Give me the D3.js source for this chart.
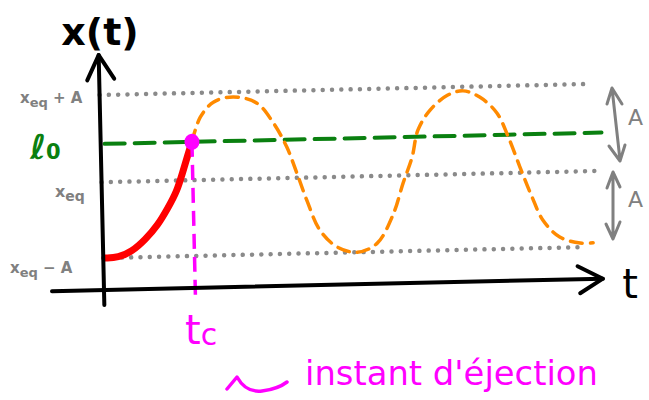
<!DOCTYPE html>
<html lang="en">
  <head>
    <meta charset="utf-8">
    <title>x(t) - instant d'éjection</title>
    <style>
      body { margin: 0; background: #fff; }
      svg { display: block; }
      text { font-family: "DejaVu Sans", sans-serif; }
    </style>
    <script src="https://d3js.org/d3.v7.min.js"></script>
  </head>
  <body>
    <script>
    // values (t in arbitrary units, x in units of A around x_eq)
    const levelNames = ["xeq+A", "xeq", "xeq-A"];
    const levelValues = [1, -0.07, -1];
    const levelEnds = [9.85, 9.95, 9.7];
    const l0 = 0.4;
    const tc = 1.84;

    const redT = [0.04, 0.30, 0.58, 0.85, 1.12, 1.33, 1.51, 1.64, 1.75, 1.84];
    const redX = [-1.00, -1.00, -0.93, -0.79, -0.61, -0.40, -0.21, 0.03, 0.24, 0.40];

    const orangeT = [1.84, 2.02, 2.29, 2.69, 3.16, 3.49, 3.75, 3.94, 4.13, 4.38, 4.72, 5.12, 5.52, 5.86,
      6.08, 6.27, 6.40, 6.65, 7.01, 7.33, 7.66, 8.00, 8.22, 8.44, 8.67, 8.88, 9.21, 9.62, 9.88];
    const orangeX = [0.40, 0.70, 0.88, 0.94, 0.86, 0.61, 0.31, -0.01, -0.35, -0.72, -0.93, -1.00, -0.90, -0.55,
      -0.16, 0.15, 0.48, 0.72, 0.90, 0.95, 0.87, 0.67, 0.37, 0.00, -0.37, -0.66, -0.87, -0.95, -0.95];

    const width = 649, height = 400;
    const axisY = 290;

    const svg = d3.select("body")
      .append("svg")
      .attr("width", width)
      .attr("height", height)

    const x = d3.scaleLinear().domain([0, 10]).range([104, 600])
    const y = d3.scaleLinear().domain([-1, 1]).range([258, 95])

    // the sketch is drawn slightly tilted
    const plot = svg.append("g")
      .attr("transform", `rotate(-1.3,${x(0)},${axisY})`)

    // dotted reference levels
    plot.selectAll(".level")
      .data(levelValues)
      .join("line")
      .attr("class", "level")
      .attr("x1", x(0))
      .attr("x2", (d, i) => x(levelEnds[i]))
      .attr("y1", d => y(d))
      .attr("y2", d => y(d))
      .attr("stroke", "#8a8a8a")
      .attr("stroke-width", 4.5)
      .attr("stroke-linecap", "round")
      .attr("stroke-dasharray", "0 9.3")

    // l0 green dashed
    plot.append("line")
      .attr("x1", x(0) + 4).attr("x2", x(10.1))
      .attr("y1", y(l0)).attr("y2", y(l0))
      .attr("stroke", "#0a8010")
      .attr("stroke-width", 4)
      .attr("stroke-linecap", "round")
      .attr("stroke-dasharray", "20 10")

    const line = d3.line()
      .x(d => x(d[0]))
      .y(d => y(d[1]))

    // orange dashed oscillation after ejection
    plot.append("path")
      .datum(d3.zip(orangeT, orangeX))
      .attr("d", line.curve(d3.curveCatmullRom))
      .attr("fill", "none")
      .attr("stroke", "#ff8a00")
      .attr("stroke-width", 3.5)
      .attr("stroke-linecap", "round")
      .attr("stroke-dasharray", "12 8")

    // red rising part
    plot.append("path")
      .datum(d3.zip(redT, redX))
      .attr("d", line.curve(d3.curveBasis))
      .attr("fill", "none")
      .attr("stroke", "#ff0000")
      .attr("stroke-width", 7)
      .attr("stroke-linecap", "round")

    // magenta vertical at tc
    plot.append("line")
      .attr("x1", x(tc)).attr("x2", x(tc))
      .attr("y1", y(l0)).attr("y2", axisY + 7)
      .attr("stroke", "#ff00ff")
      .attr("stroke-width", 3.5)
      .attr("stroke-dasharray", "15 8")

    plot.append("ellipse")
      .attr("cx", x(tc))
      .attr("cy", y(l0))
      .attr("rx", 7.5)
      .attr("ry", 8)
      .attr("fill", "#ff00ff")

    // axes
    const axes = plot.append("g")
      .attr("fill", "none")
      .attr("stroke", "#000")
      .attr("stroke-width", 4)
      .attr("stroke-linecap", "round")
      .attr("stroke-linejoin", "round")

    axes.append("line")
      .attr("x1", 52).attr("x2", 603)
      .attr("y1", axisY).attr("y2", axisY)
    axes.append("path")
      .attr("d", `M578,277 L603,${axisY} L580,304`)
    axes.append("line")
      .attr("x1", x(0)).attr("x2", x(0))
      .attr("y1", 305).attr("y2", 55)
    axes.append("path")
      .attr("d", `M92,80 L${x(0)},55 L119,79`)

    // labels
    svg.append("text")
      .attr("x", 100).attr("y", 45)
      .attr("text-anchor", "middle")
      .style("font-size", "38px")
      .style("font-weight", "bold")
      .text("x(t)")

    svg.append("text")
      .attr("x", 630).attr("y", 298)
      .attr("text-anchor", "middle")
      .style("font-size", "40px")
      .text("t")

    const grey = "#808080"
    const levelLabels = [
      { main: "x", sub: "eq", tail: " + A", x: 20, y: 103, size: 15 },
      { main: "x", sub: "eq", tail: "", x: 55, y: 197, size: 16 },
      { main: "x", sub: "eq", tail: " − A", x: 10, y: 273, size: 15 }
    ]
    levelLabels.forEach(d => {
      const t = svg.append("text")
        .attr("x", d.x).attr("y", d.y)
        .attr("fill", grey)
        .style("font-size", d.size + "px")
        .style("font-weight", "bold")
      t.append("tspan").text(d.main)
      t.append("tspan").attr("dy", 4).style("font-size", (d.size - 2) + "px").text(d.sub)
      if (d.tail) t.append("tspan").attr("dy", -4).text(d.tail)
    })

    const l0Label = svg.append("text")
      .attr("x", 30).attr("y", 159)
      .attr("fill", "#0a8010")
      .style("font-size", "34px")
      .style("font-weight", "bold")
    l0Label.append("tspan").text("ℓ")
    l0Label.append("tspan").style("font-size", "21px").text("0")

    // amplitude arrows on the right
    const ampArrows = svg.append("g")
      .attr("fill", "none")
      .attr("stroke", grey)
      .attr("stroke-width", 3)
      .attr("stroke-linecap", "round")
      .attr("stroke-linejoin", "round")
    ampArrows.append("path").attr("d", "M612,88 L620,160 M607,104 L612,88 L622,104 M609,146 L620,161 L625,145")
    ampArrows.append("path").attr("d", "M613,173 L613,238 M607,188 L613,172 L620,187 M606,224 L613,239 L620,222")

    svg.selectAll(".ampLabel")
      .data([125, 207])
      .join("text")
      .attr("class", "ampLabel")
      .attr("x", 628).attr("y", d => d)
      .attr("fill", grey)
      .style("font-size", "22px")
      .text("A")

    // ejection annotation
    const magenta = "#ff00ff"
    const tcLabel = svg.append("text")
      .attr("x", 185).attr("y", 344)
      .attr("fill", magenta)
      .style("font-size", "40px")
    tcLabel.append("tspan").text("t")
    tcLabel.append("tspan").attr("dy", 1).style("font-size", "30px").text("c")

    svg.append("path")
      .attr("d", "M227,389 L237,377 Q246,393 262,391 Q278,389 287,382")
      .attr("fill", "none")
      .attr("stroke", magenta)
      .attr("stroke-width", 3.5)
      .attr("stroke-linecap", "round")
      .attr("stroke-linejoin", "round")

    svg.append("text")
      .attr("x", 305).attr("y", 385)
      .attr("fill", magenta)
      .attr("textLength", 293)
      .attr("lengthAdjust", "spacingAndGlyphs")
      .style("font-size", "34px")
      .text("instant d'éjection")
    </script>
  </body>
</html>
